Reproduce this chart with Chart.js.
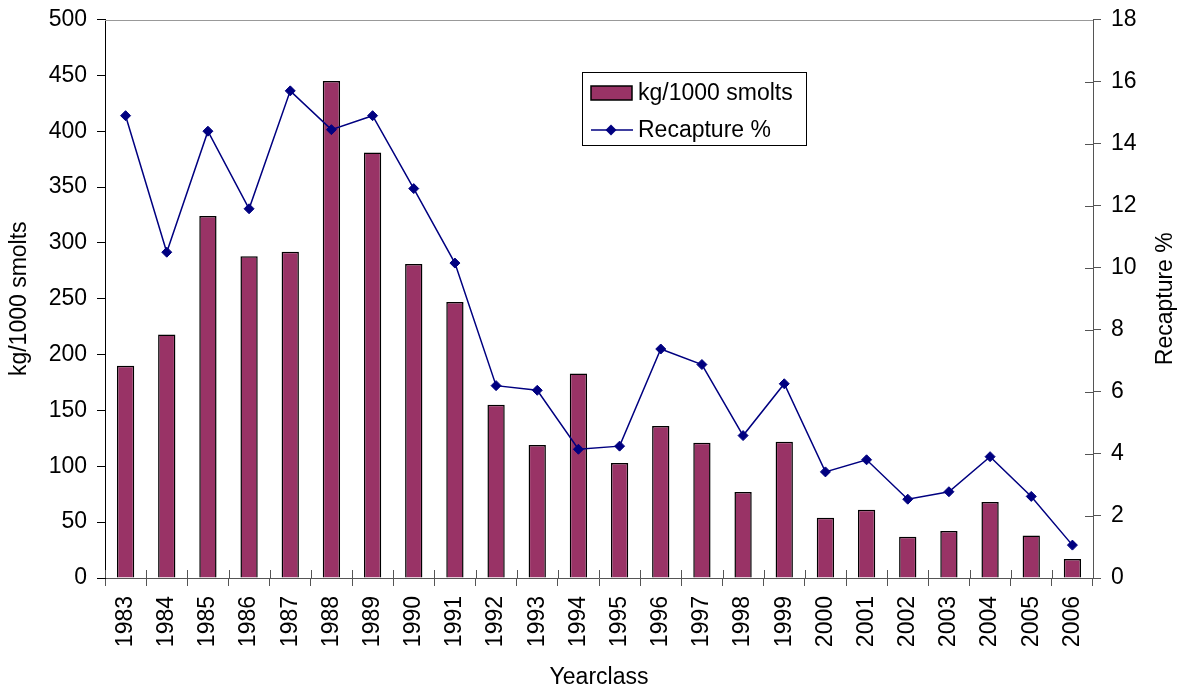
<!DOCTYPE html>
<html>
<head>
<meta charset="utf-8">
<script src="https://cdn.jsdelivr.net/npm/chart.js@4/dist/chart.umd.min.js"></script>
<style>
  html, body { margin: 0; padding: 0; background: #fff; }
  #wrap { width: 1190px; height: 691px; position: relative; }
</style>
</head>
<body>
<div id="wrap"><canvas id="chart"></canvas></div>
<script>
// yearclasses and values
const years = ['1983', '1984', '1985', '1986', '1987', '1988', '1989', '1990', '1991', '1992', '1993', '1994',
               '1995', '1996', '1997', '1998', '1999', '2000', '2001', '2002', '2003', '2004', '2005', '2006'];
const kgPer1000 = [190, 218, 324, 288, 292, 445, 381, 281, 247, 155, 119, 183,
                   103, 136, 121, 77, 122, 54, 61, 37, 42, 68, 38, 17];
const recapture = [14.9, 10.5, 14.4, 11.9, 15.7, 14.45, 14.9, 12.55, 10.15, 6.2, 6.05, 4.15,
                   4.25, 7.38, 6.88, 4.59, 6.26, 3.42, 3.81, 2.54, 2.78, 3.91, 2.63, 1.06];
const kgTicks = [0, 50, 100, 150, 200, 250, 300, 350, 400, 450, 500];
const recaptureTicks = [0, 2, 4, 6, 8, 10, 12, 14, 16, 18];

const FONT = { family: '"Liberation Sans", Arial, sans-serif', size: 23 };
const BAR_COLOR = '#993366';
const LINE_COLOR = '#000080';

// tick marks that also poke into the plot, top frame line, right title and legend box
const extras = {
    id: 'extras',
    afterDatasetsDraw(chart) {
        const ctx = chart.ctx;
        const area = chart.chartArea;
        const x = chart.scales.x;
        const y1 = chart.scales.y1;

        ctx.save();
        ctx.lineWidth = 1;
        ctx.strokeStyle = '#555';
        ctx.beginPath();
        for (let i = 0; i <= years.length; i++) {
            const px = Math.round(x.getPixelForValue(i - 0.5)) + 0.5;
            ctx.moveTo(px, area.bottom);
            ctx.lineTo(px, area.bottom - 8);
        }
        recaptureTicks.forEach(v => {
            const py = Math.round(y1.getPixelForValue(v)) + 0.5;
            ctx.moveTo(area.right, py);
            ctx.lineTo(area.right - 8, py);
        });
        ctx.stroke();

        // top frame
        ctx.strokeStyle = '#999';
        ctx.beginPath();
        ctx.moveTo(area.left, Math.round(area.top) + 0.5);
        ctx.lineTo(area.right, Math.round(area.top) + 0.5);
        ctx.stroke();
        ctx.restore();
    },
    afterDraw(chart) {
        const ctx = chart.ctx;
        const font = FONT.size + 'px ' + FONT.family;
        ctx.save();

        // right axis title, reading bottom to top
        ctx.font = font;
        ctx.fillStyle = '#000';
        ctx.textAlign = 'center';
        ctx.textBaseline = 'middle';
        ctx.translate(1166, (chart.chartArea.top + chart.chartArea.bottom) / 2);
        ctx.rotate(-Math.PI / 2);
        ctx.fillText('Recapture %', 0, 0);
        ctx.setTransform(1, 0, 0, 1, 0, 0);

        // legend
        const bx = 582.5, by = 72.5, bw = 224, bh = 73;
        ctx.fillStyle = '#fff';
        ctx.fillRect(bx, by, bw, bh);
        ctx.strokeStyle = '#000';
        ctx.lineWidth = 1;
        ctx.strokeRect(bx, by, bw, bh);

        const barDs = chart.data.datasets[1];
        const lineDs = chart.data.datasets[0];

        ctx.fillStyle = BAR_COLOR;
        ctx.fillRect(591, 86, 41, 14);
        ctx.lineWidth = 1.5;
        ctx.strokeRect(591, 86, 41, 14);

        ctx.strokeStyle = LINE_COLOR;
        ctx.lineWidth = 1.5;
        ctx.beginPath();
        ctx.moveTo(591, 130);
        ctx.lineTo(633, 130);
        ctx.stroke();
        ctx.fillStyle = LINE_COLOR;
        ctx.beginPath();
        ctx.moveTo(611, 124.5);
        ctx.lineTo(616.5, 130);
        ctx.lineTo(611, 135.5);
        ctx.lineTo(605.5, 130);
        ctx.closePath();
        ctx.fill();

        ctx.font = font;
        ctx.fillStyle = '#000';
        ctx.textAlign = 'left';
        ctx.textBaseline = 'middle';
        ctx.fillText(barDs.label, 638, 94);
        ctx.fillText(lineDs.label, 638, 131);
        ctx.restore();
    }
};

// keep the vertical axes from pushing the plot top down
function fitVertical(width) {
    return function(s) {
        s.width = width;
        s.paddingTop = 10;
        s.paddingBottom = 10;
    };
}

new Chart(document.getElementById('chart'), {
    type: 'bar',
    data: {
        labels: years,
        datasets: [
            {
                type: 'line',
                label: 'Recapture %',
                data: recapture,
                yAxisID: 'y1',
                borderColor: LINE_COLOR,
                backgroundColor: LINE_COLOR,
                borderWidth: 1.5,
                pointStyle: 'rectRot',
                pointRadius: 5,
                pointBorderWidth: 1,
                tension: 0,
                fill: false,
                order: 1
            },
            {
                label: 'kg/1000 smolts',
                data: kgPer1000,
                yAxisID: 'y',
                backgroundColor: BAR_COLOR,
                borderColor: '#000',
                borderWidth: 1.5,
                barPercentage: 0.42,
                categoryPercentage: 1,
                order: 2
            }
        ]
    },
    options: {
        responsive: true,
        maintainAspectRatio: false,
        animation: false,
        layout: { padding: { top: 19.5, left: 0, right: 0, bottom: 0 } },
        plugins: {
            legend: { display: false },
            tooltip: { enabled: false }
        },
        scales: {
            x: {
                afterFit(s) { s.height = 113; },
                grid: {
                    offset: true,
                    drawOnChartArea: false,
                    tickLength: 8,
                    color: '#555'
                },
                border: { color: '#555', width: 1 },
                ticks: {
                    color: '#000',
                    font: FONT,
                    minRotation: 90,
                    maxRotation: 90,
                    autoSkip: false,
                    padding: 10
                },
                title: {
                    display: true,
                    text: 'Yearclass',
                    color: '#000',
                    font: FONT,
                    padding: { top: 0, bottom: 0 }
                }
            },
            y: {
                position: 'left',
                min: 0,
                max: 500,
                afterFit: fitVertical(105),
                afterBuildTicks(s) { s.ticks = kgTicks.map(v => ({ value: v })); },
                grid: {
                    drawOnChartArea: false,
                    tickLength: 8,
                    color: '#000'
                },
                border: { color: '#000', width: 1 },
                ticks: { color: '#000', font: FONT, padding: 10 },
                title: {
                    display: true,
                    text: 'kg/1000 smolts',
                    color: '#000',
                    font: FONT,
                    padding: { top: 6, bottom: 0 }
                }
            },
            y1: {
                position: 'right',
                min: 0,
                max: 18,
                afterFit: fitVertical(97),
                afterBuildTicks(s) { s.ticks = recaptureTicks.map(v => ({ value: v })); },
                grid: {
                    drawOnChartArea: false,
                    tickLength: 8,
                    color: '#555'
                },
                border: { color: '#555', width: 1 },
                ticks: { color: '#000', font: FONT, padding: 10 }
            }
        }
    },
    plugins: [extras]
});
</script>
</body>
</html>
